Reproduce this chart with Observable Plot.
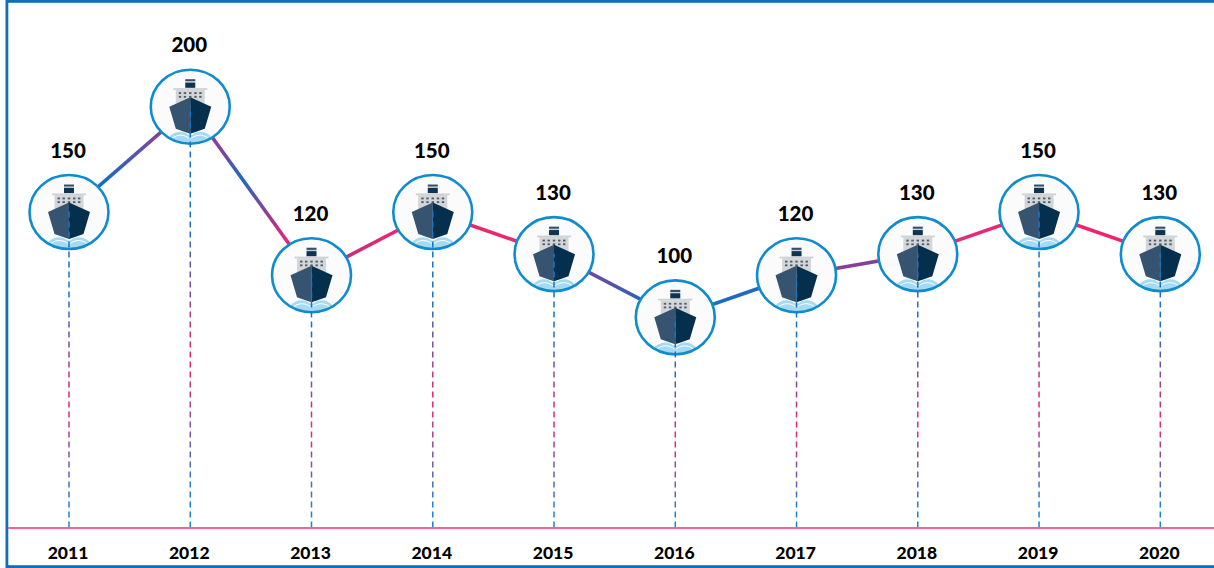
<!DOCTYPE html>
<html>
<head>
<meta charset="utf-8">
<script src="https://cdn.jsdelivr.net/npm/d3@7"></script>
<script src="https://cdn.jsdelivr.net/npm/@observablehq/plot@0.6"></script>
<style>
  html, body { margin: 0; padding: 0; background: #fff; overflow: hidden; }
  svg { display: block; }
</style>
</head>
<body>
<div id="chart"></div>
<script>
const years = [2011, 2012, 2013, 2014, 2015, 2016, 2017, 2018, 2019, 2020];
const values = [150, 200, 120, 150, 130, 100, 120, 130, 150, 130];

// Colour stops for the connector that starts at each year (styling only).
const BLUE = "#1a6cc2", PURPLE = "#87409a", PINK = "#f0246e";
const segmentStops = [
  [[0.3, BLUE], [0.75, PURPLE]],
  [[0.25, PURPLE], [0.42, BLUE], [0.62, PURPLE], [0.82, PINK]],
  [[0.25, "#c0307f"], [0.72, PINK]],
  [[0.3, PINK], [0.7, "#e82a72"]],
  [[0.3, "#6e4aa0"], [0.72, "#2d62b8"]],
  [[0.3, BLUE], [0.7, "#2268bf"]],
  [[0.3, "#8a3f97"], [0.7, "#863f9a"]],
  [[0.3, "#e02e7a"], [0.7, PINK]],
  [[0.3, PINK], [0.7, PINK]]
];

const rows = years.map((year, i) => ({year, value: values[i]}));
const segments = rows.slice(0, -1).map((d, i) => ({
  i, x1: d.year, y1: d.value, x2: rows[i + 1].year, y2: rows[i + 1].value
}));

const shipSvg = `<svg xmlns="http://www.w3.org/2000/svg" width="84" height="80" viewBox="-42 -40 84 80">
<defs><clipPath id="c"><ellipse cx="0" cy="0" rx="39.5" ry="37"/></clipPath></defs>
<ellipse cx="0" cy="0" rx="39.5" ry="37" fill="#fbfbfb"/>
<g clip-path="url(#c)">
<path d="M-21 30C-15 24-8 24-3 27.5C-1 29 1 29 3 27.5C8 24 15 24 21 30L18 38L-18 38Z" fill="#a6daf2"/>
<path d="M-18 31.5C-12 27-6 28-1 31.5M1 31.5C6 28 12 27 18 31.5" fill="none" stroke="#fff" stroke-width="1"/>
</g>
<rect x="-5" y="-27.5" width="10" height="2.2" fill="#34506a"/>
<rect x="-5" y="-25.3" width="10" height="1.2" fill="#c9cccf"/>
<rect x="-5" y="-24.1" width="10" height="5.2" fill="#0d3452"/>
<rect x="-17" y="-18.6" width="34" height="1.8" fill="#cfd2d4"/>
<rect x="-14.5" y="-17" width="29" height="14" fill="#d3d5d7"/>
<g fill="#4b5c6d">
<rect x="-11.5" y="-14.5" width="2.4" height="1.8"/><rect x="-6.5" y="-14.5" width="2.4" height="1.8"/><rect x="-1.2" y="-14.5" width="2.4" height="1.8"/><rect x="4" y="-14.5" width="2.4" height="1.8"/><rect x="9" y="-14.5" width="2.4" height="1.8"/>
<rect x="-11.5" y="-10.8" width="2.4" height="1.8"/><rect x="-6.5" y="-10.8" width="2.4" height="1.8"/><rect x="-1.2" y="-10.8" width="2.4" height="1.8"/><rect x="4" y="-10.8" width="2.4" height="1.8"/><rect x="9" y="-10.8" width="2.4" height="1.8"/>
</g>
<path d="M0-9.5L-21 0L-14.5 22L-6 25L0 27Z" fill="#36536f"/>
<path d="M0-9.5L21 0L14.5 22L6 25L0 27Z" fill="#04304d"/>
<ellipse cx="0" cy="0" rx="39.5" ry="37" fill="none" stroke="#0f8ccf" stroke-width="2.6"/>
</svg>`;
const shipSrc = "data:image/svg+xml," + encodeURIComponent(shipSvg);

function gradients(index, {x, y}) {
  const defs = d3.create("svg:defs");
  segments.forEach(s => {
    const g = defs.append("linearGradient")
      .attr("id", `seg${s.i}`)
      .attr("gradientUnits", "userSpaceOnUse")
      .attr("x1", x(s.x1)).attr("y1", y(s.y1))
      .attr("x2", x(s.x2)).attr("y2", y(s.y2));
    segmentStops[s.i].forEach(([o, c]) => g.append("stop").attr("offset", o).attr("stop-color", c));
  });
  rows.forEach(d => {
    const g = defs.append("linearGradient")
      .attr("id", `drop${d.year}`)
      .attr("gradientUnits", "userSpaceOnUse")
      .attr("x1", 0).attr("y1", y(d.value))
      .attr("x2", 0).attr("y2", y(0));
    [[0.27, "#1873c6"], [0.6, PINK], [0.93, "#1c82d2"]].forEach(([o, c]) =>
      g.append("stop").attr("offset", o).attr("stop-color", c));
  });
  return defs.node();
}

const chart = Plot.plot({
  width: 1214,
  height: 568,
  marginLeft: 8,
  marginRight: 0,
  marginTop: 0,
  marginBottom: 40.5,
  style: {fontFamily: "Lato, 'Open Sans', sans-serif", background: "#fff", overflow: "hidden"},
  x: {type: "point", domain: years, range: [68.5, 1159.8], padding: 0, round: false, axis: null},
  y: {domain: [0, 200], range: [527.5, 106.2], axis: null},
  color: {type: "identity"},
  marks: [
    gradients,
    Plot.frame({
      stroke: "#0f6fbc", strokeWidth: 2.8,
      insetLeft: -1.6, insetTop: 0.9, insetBottom: -38.6, insetRight: -3
    }),
    Plot.link(segments, {
      x1: "x1", y1: "y1", x2: "x2", y2: "y2",
      stroke: d => `url(#seg${d.i})`, strokeWidth: 3.6
    }),
    Plot.image(rows, {x: "year", y: "value", src: () => shipSrc, width: 84, height: 80}),
    Plot.ruleX(rows, {
      x: "year", y1: 0, y2: "value",
      stroke: d => `url(#drop${d.year})`, strokeWidth: 1.5, strokeDasharray: "6,4"
    }),
    Plot.ruleY([0], {stroke: "#ff5f93", strokeWidth: 1.9}),
    Plot.text(rows, {
      x: "year", y: "value", text: d => String(d.value),
      dy: -61, dx: -1, fontSize: 20.5, fontWeight: 900, fill: "#000"
    }),
    Plot.axisX({
      anchor: "bottom", tickSize: 0, tickPadding: 19, tickFormat: d => String(d),
      fontSize: 17.5, fontWeight: 900, fill: "#000", stroke: "none", dx: -1
    })
  ]
});
document.getElementById("chart").appendChild(chart);
</script>
</body>
</html>
